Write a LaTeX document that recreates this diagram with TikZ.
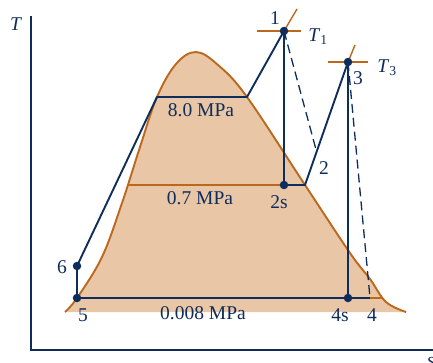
\documentclass[tikz,border=0pt]{standalone}
\usepackage{fontspec}
\setmainfont{Liberation Serif}
\usetikzlibrary{calc}
\definecolor{cycblue}{RGB}{15,45,90}
\definecolor{domeorange}{RGB}{188,104,28}
\definecolor{domefill}{RGB}{233,198,166}

\begin{document}
\begin{tikzpicture}[x=1pt,y=1pt,
    every node/.style={text=cycblue,font=\fontsize{19.5}{22}\selectfont},
    cycleline/.style={draw=cycblue,line width=1.9pt,line join=round},
    isotherm/.style={draw=domeorange,line width=1.4pt},
    state/.style={circle,fill=cycblue,inner sep=0pt,minimum size=8.5pt}]
    \useasboundingbox (0,0) rectangle (433,362);
    % vapor dome
    \fill[domefill] plot[smooth,tension=.6] coordinates {(65,50) (77,64) (102,105) (122,159) (140,215) (157,265) (176,298) (196,310) (218,297) (247,265) (305,177) (350,109) (370,83) (386,60) (406,50)} -- cycle;
    \draw[domeorange,line width=1.9pt] plot[smooth,tension=.6] coordinates {(65,50) (77,64) (102,105) (122,159) (140,215) (157,265) (176,298) (196,310) (218,297) (247,265) (305,177) (350,109) (370,83) (386,60) (406,50)};
    % axes
    \draw[cycblue,line width=1.3pt] (31,346) -- (31,12) -- (440,12);
    \node (Tlab) at (16,338) {\textit{T}};
    \node (slab) at (431,0) {\textit{s}};
    % states
    \coordinate (s1) at (284,331);
    \coordinate (s2) at (305,177);
    \coordinate (s2s) at (284,177);
    \coordinate (s3) at (348,300);
    \coordinate (s4) at (370,64);
    \coordinate (s4s) at (348,64);
    \coordinate (s5) at (77,64);
    \coordinate (s6) at (77,96);
    \coordinate (f8) at (157,265);
    \coordinate (g8) at (247,265);
    \coordinate (f07) at (127,177);
    \coordinate (g008) at (383,64);
    \coordinate (e2) at ($(s3)!.73!(s2)$);
    % isotherms at 1 and 3
    \draw[isotherm] ($(s1)+(-27,0)$) -- ($(s1)+(17,0)$);
    \draw[isotherm] (s1) -- ++(13,22);
    \draw[isotherm] ($(s3)+(-20,0)$) -- ($(s3)+(20,0)$);
    \draw[isotherm] (s3) -- ++(7,17);
    % saturation pressure lines
    \draw[isotherm] (f07) -- (s2s);
    \draw[isotherm] (s4) -- (g008);
    % cycle
    \draw[cycleline] (s6) -- (f8) -- (g8) -- (s1) -- (s2s) -- (s2) -- (s3) -- (s4s);
    \draw[cycleline] (s4) -- (s5) -- (s6);
    \draw[cycleline,line width=1.3pt,dash pattern=on 9pt off 5pt] (s1) -- (e2);
    \draw[cycleline,line width=1.3pt,dash pattern=on 9pt off 5pt] (s3) -- (s4);
    \node[state] (d1) at (s1) {};
    \node[state] (d2s) at (s2s) {};
    \node[state] (d3) at (s3) {};
    \node[state] (d4s) at (s4s) {};
    \node[state] (d5) at (s5) {};
    \node[state] (d6) at (s6) {};
    % labels
    \node (l1) at (275,344) {1};
    \node (lT1) at (318,325) {\textit{T}\textsubscript{1}};
    \node (l3) at (358,284) {3};
    \node (lT3) at (387,294) {\textit{T}\textsubscript{3}};
    \node (l2) at (324,194) {2};
    \node (l2s) at (279,160) {2s};
    \node (l4s) at (340,47) {4s};
    \node (l4) at (372,47) {4};
    \node (l5) at (83,47) {5};
    \node (l6) at (62,95) {6};
    \node (p8) at (201,252) {8.0 MPa};
    \node (p07) at (200,164) {0.7 MPa};
    \node (p008) at (203,49) {0.008 MPa};
\end{tikzpicture}
\end{document}
